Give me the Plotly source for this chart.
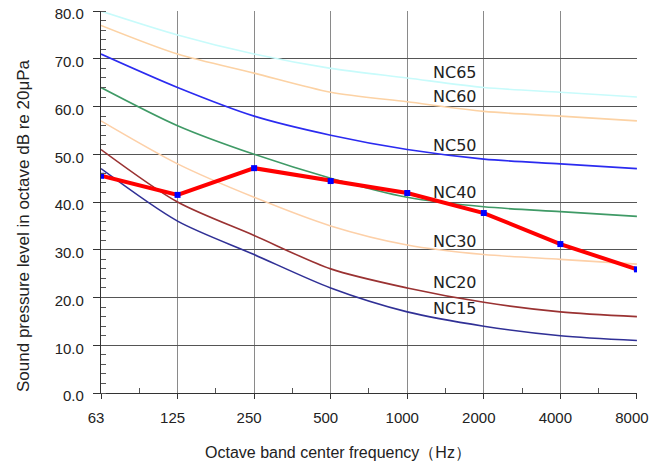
import plotly.graph_objects as go

freq_labels = ["63", "125", "250", "500", "1000", "2000", "4000", "8000"]
nc15 = [47, 36, 29, 22, 17, 14, 12, 11]
nc20 = [51, 40, 33, 26, 22, 19, 17, 16]
nc30 = [57, 48, 41, 35, 31, 29, 28, 27]
nc40 = [64, 56, 50, 45, 41, 39, 38, 37]
nc50 = [71, 64, 58, 54, 51, 49, 48, 47]
nc60 = [77, 71, 67, 63, 61, 59, 58, 57]
nc65 = [80, 75, 71, 68, 66, 64, 63, 62]
measured = [45.5, 41.5, 47.1, 44.4, 41.9, 37.7, 31.2, 25.9]

curves = [
    ("NC65", nc65, "#c8fbfb", 67.2),
    ("NC60", nc60, "#fcd2a4", 62.2),
    ("NC50", nc50, "#2b2bf0", 51.9),
    ("NC40", nc40, "#3f9a66", 42.1),
    ("NC30", nc30, "#fdd0a8", 31.8),
    ("NC20", nc20, "#9a3232", 23.1),
    ("NC15", nc15, "#303096", 17.6),
]

W, H = 657, 465
ML, MR, MT, MB = 101, 20, 11, 72
PW, PH = W - ML - MR, H - MT - MB

xs = list(range(len(freq_labels)))
fig = go.Figure()
for name, vals, col, ly in curves:
    fig.add_trace(go.Scatter(x=xs, y=vals, mode="lines", line=dict(color=col, width=1.6, shape="spline", smoothing=0.8),
                             showlegend=False, hoverinfo="skip"))
    fig.add_annotation(x=4.94, y=ly, text=name, showarrow=False, xanchor="right", yanchor="middle",
                       font=dict(family="DejaVu Sans", size=16, color="#222222"))

fig.add_trace(go.Scatter(x=xs, y=measured, mode="lines+markers", line=dict(color="#ff0000", width=4),
                         marker=dict(symbol="square", size=6, color="#0000ff"), showlegend=False))

# axis titles as annotations for exact placement
fig.add_annotation(xref="paper", yref="paper", x=(23 - ML) / PW, y=(MT + PH - 226) / PH,
                   text="Sound pressure level in octave dB re 20μPa", textangle=-90, showarrow=False,
                   xanchor="center", yanchor="middle", font=dict(size=17, color="#222222"))
fig.add_annotation(xref="paper", yref="paper", x=(338 - ML) / PW, y=-(452 - MT - PH) / PH,
                   text="Octave band center frequency（Hz）", showarrow=False,
                   xanchor="center", yanchor="middle", font=dict(size=16, color="#222222"))

fig.update_layout(
    width=W, height=H,
    margin=dict(l=ML, r=MR, t=MT, b=MB),
    paper_bgcolor="white", plot_bgcolor="white",
    font=dict(family="Liberation Sans, Arial", size=15, color="#222222"),
)
fig.update_xaxes(
    range=[0, 7.001], tickmode="array", tickvals=xs, ticktext=freq_labels,
    showgrid=True, gridcolor="#8a8a8a", gridwidth=1.2,
    showline=True, linecolor="#333333", linewidth=1.2,
    ticks="outside", ticklen=5, tickcolor="#333333", ticklabelstandoff=6, ticklabelshift=-5,
    ticklabeloverflow="allow",
    minor=dict(tickmode="array", tickvals=[i + 0.5 for i in range(7)], ticks="inside", ticklen=5, tickcolor="#555555", showgrid=False),
    zeroline=False, automargin=False,
)
fig.update_yaxes(
    range=[0, 80.02], tickvals=list(range(0, 81, 10)), tickformat=".1f",
    showgrid=True, gridcolor="#555555", gridwidth=1,
    showline=True, linecolor="#333333", linewidth=1.2,
    ticks="outside", ticklen=7, tickcolor="#333333", ticklabelstandoff=6, ticklabelshift=3,
    ticklabeloverflow="allow",
    minor=dict(dtick=2, ticks="inside", ticklen=5, tickcolor="#555555", showgrid=False),
    zeroline=False, automargin=False,
)
fig.write_html("out.html", config={"displayModeBar": False},
               post_script="document.body.style.margin='0px';")
